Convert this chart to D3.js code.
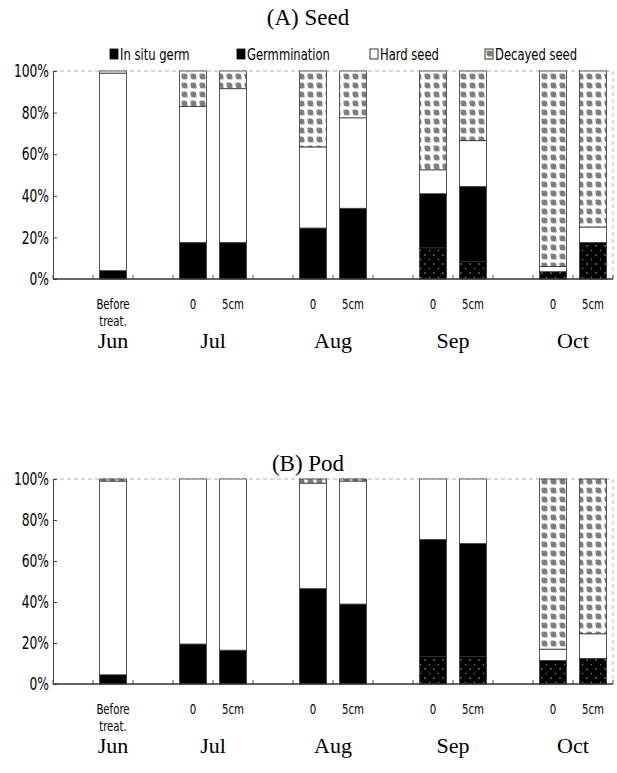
<!DOCTYPE html>
<html>
<head>
<meta charset="utf-8">
<script src="https://cdn.jsdelivr.net/npm/d3@7"></script>
<style>
    body { margin: 0; background: #fff; }
    svg { display: block; }
    .sans { font-family: "DejaVu Sans Condensed", "DejaVu Sans", sans-serif; font-stretch: condensed; }
    .serif { font-family: "Liberation Serif", "DejaVu Serif", serif; }
</style>
</head>
<body>
<div id="chart"></div>
<script>
// slots on the x axis; gapN are empty spacer slots
const slots = ['gap0', 'Jun', 'gap1', 'Jul-0', 'Jul-5cm', 'gap2', 'Aug-0', 'Aug-5cm', 'gap3', 'Sep-0', 'Sep-5cm', 'gap4', 'Oct-0', 'Oct-5cm'];
const barKeys = ['Jun', 'Jul-0', 'Jul-5cm', 'Aug-0', 'Aug-5cm', 'Sep-0', 'Sep-5cm', 'Oct-0', 'Oct-5cm'];
const depthLabels = [['Before', 'treat.'], ['0'], ['5cm'], ['0'], ['5cm'], ['0'], ['5cm'], ['0'], ['5cm']];
const months = ['Jun', 'Jul', 'Aug', 'Sep', 'Oct'];
const monthBars = [['Jun'], ['Jul-0', 'Jul-5cm'], ['Aug-0', 'Aug-5cm'], ['Sep-0', 'Sep-5cm'], ['Oct-0', 'Oct-5cm']];
const seriesNames = ['In situ germ', 'Germmination', 'Hard seed', 'Decayed seed'];
const yTicks = [0, 20, 40, 60, 80, 100];

// (A) Seed, % per bar
const seedInSitu   = [0, 0, 0, 0, 0, 15, 8.5, 3.5, 17.5];
const seedGerm     = [4, 17.5, 17.5, 24.5, 34, 26, 36, 0, 0];
const seedHard     = [95, 65.5, 74, 39, 43.5, 11.5, 22, 2.5, 7.5];
const seedDecayed  = [1, 17, 8.5, 36.5, 22.5, 47.5, 33.5, 94, 75];

// (B) Pod, % per bar
const podInSitu    = [0, 0, 0, 0, 0, 13.5, 13.5, 11.5, 12.5];
const podGerm      = [4.5, 19.5, 16.5, 46.5, 39, 57, 55, 0, 0];
const podHard      = [94.5, 80.5, 83.5, 51.5, 60, 29.5, 31.5, 5.5, 12];
const podDecayed   = [1, 0, 0, 2, 1, 0, 0, 83, 75.5];

const W = 617, H = 773;
const squeeze = 0.78;   // the original sans face is much narrower than DejaVu

const svg = d3.select('#chart')
    .append('svg')
        .attr('width', W)
        .attr('height', H);

// fill patterns
const defs = svg.append('defs');

const decay = defs.append('pattern')
    .attr('id', 'decay')
    .attr('patternUnits', 'userSpaceOnUse')
    .attr('width', 9).attr('height', 9);
decay.append('rect').attr('width', 9).attr('height', 9).attr('fill', '#fff');
decay.append('circle').attr('cx', 4.5).attr('cy', 4.5).attr('r', 2.9).attr('fill', '#7c7c7c');
decay.append('circle').attr('cx', 2.6).attr('cy', 2.8).attr('r', 1.3).attr('fill', '#8c8c8c');
decay.append('circle').attr('cx', 6.6).attr('cy', 6.4).attr('r', 1.1).attr('fill', '#8c8c8c');

const insitu = defs.append('pattern')
    .attr('id', 'insitu')
    .attr('patternUnits', 'userSpaceOnUse')
    .attr('width', 9).attr('height', 9);
insitu.append('rect').attr('width', 9).attr('height', 9).attr('fill', '#000');
insitu.append('circle').attr('cx', 2).attr('cy', 3).attr('r', 0.8).attr('fill', '#aaa');
insitu.append('circle').attr('cx', 6.5).attr('cy', 7.5).attr('r', 0.7).attr('fill', '#888');

const fills = ['url(#insitu)', '#000', '#fff', 'url(#decay)'];

const x = d3.scaleBand()
    .domain(slots)
    .range([53, 613])
    .paddingInner(0.33)
    .paddingOuter(0.165);

// narrow sans text placed at (px, py)
function narrowText(parent, px, py, size, anchor) {
    return parent.append('text')
        .attr('class', 'sans')
        .attr('font-size', size)
        .attr('text-anchor', anchor)
        .attr('transform', `translate(${px},${py}) scale(${squeeze},1)`);
}

function drawPanel(cfg) {
    const y = d3.scaleLinear().domain([0, 100]).range([cfg.bottom, cfg.top]);
    const g = svg.append('g');

    const rows = barKeys.map((k, i) => {
        const r = {key: k};
        cfg.series.forEach((s, j) => r[seriesNames[j]] = s[i]);
        return r;
    });
    const stacked = d3.stack().keys(seriesNames)(rows);

    // title
    g.append('text')
        .attr('class', 'serif')
        .attr('x', 308).attr('y', cfg.titleY)
        .attr('text-anchor', 'middle')
        .attr('font-size', 23)
        .text(cfg.title);

    // dashed frame on top and right
    g.append('line')
        .attr('x1', x.range()[0]).attr('x2', x.range()[1])
        .attr('y1', y(100)).attr('y2', y(100))
        .attr('stroke', '#999').attr('stroke-dasharray', '4,3').attr('stroke-width', 0.8);
    g.append('line')
        .attr('x1', x.range()[1]).attr('x2', x.range()[1])
        .attr('y1', y(100)).attr('y2', y(0))
        .attr('stroke', '#aaa').attr('stroke-dasharray', '4,3').attr('stroke-width', 0.8);

    // bars
    g.selectAll('g.layer')
        .data(stacked)
        .enter()
        .append('g')
        .attr('class', 'layer')
        .attr('fill', (d, i) => fills[i])
        .selectAll('rect')
        .data(d => d.filter(p => p[1] - p[0] > 0))
        .enter()
        .append('rect')
        .attr('x', d => x(d.data.key))
        .attr('width', x.bandwidth())
        .attr('y', d => y(d[1]))
        .attr('height', d => y(d[0]) - y(d[1]))
        .attr('stroke', '#333')
        .attr('stroke-width', 0.8);

    // y axis
    const yAxis = g.append('g')
        .attr('transform', `translate(${x.range()[0]},0)`)
        .call(d3.axisLeft(y)
            .tickValues(yTicks)
            .tickFormat(d => d + '%')
            .tickSizeInner(-4)
            .tickSizeOuter(0)
            .tickPadding(4));
    yAxis.select('.domain').attr('stroke', '#444');
    yAxis.selectAll('.tick line').attr('stroke', '#444');
    yAxis.selectAll('text')
        .attr('class', 'sans')
        .attr('font-size', 17.5)
        .attr('fill', '#000')
        .attr('x', null)
        .attr('transform', `translate(-4,0) scale(${squeeze},1)`);

    // x baseline with slot boundary ticks
    g.append('line')
        .attr('x1', x.range()[0]).attr('x2', x.range()[1])
        .attr('y1', y(0)).attr('y2', y(0))
        .attr('stroke', '#333').attr('stroke-width', 1.3);
    g.selectAll('line.bt')
        .data(d3.range(slots.length + 1))
        .enter()
        .append('line')
        .attr('class', 'bt')
        .attr('x1', i => x.range()[0] + i * x.step())
        .attr('x2', i => x.range()[0] + i * x.step())
        .attr('y1', y(0)).attr('y2', y(0) - 4)
        .attr('stroke', '#555');

    // depth labels (two-line label as separate texts)
    barKeys.forEach((k, i) => {
        depthLabels[i].forEach((line, j) => {
            narrowText(g, x(k) + x.bandwidth() / 2, y(0) + 30 + j * 17, 14.5, 'middle')
                .text(line);
        });
    });

    // month labels
    months.forEach((m, i) => {
        const ks = monthBars[i];
        const cx = d3.mean(ks, k => x(k) + x.bandwidth() / 2);
        g.append('text')
            .attr('class', 'serif')
            .attr('font-size', 22)
            .attr('text-anchor', 'middle')
            .attr('x', cx)
            .attr('y', y(0) + 69)
            .text(m);
    });

    return g;
}

drawPanel({
    title: '(A) Seed',
    titleY: 25,
    top: 71,
    bottom: 279,
    series: [seedInSitu, seedGerm, seedHard, seedDecayed]
});

drawPanel({
    title: '(B) Pod',
    titleY: 471,
    top: 479,
    bottom: 684,
    series: [podInSitu, podGerm, podHard, podDecayed]
});

// legend (panel A only)
const legendX = [110, 237, 370, 485];
const legend = svg.append('g').attr('class', 'legend');
seriesNames.forEach((name, i) => {
    const item = legend.append('g').attr('transform', `translate(${legendX[i]},49)`);
    item.append('rect')
        .attr('width', 8).attr('height', 10)
        .attr('fill', i === 0 ? '#000' : fills[i])
        .attr('stroke', '#000').attr('stroke-width', 0.8);
    narrowText(item, 10, 10.5, 16.5, 'start').text(name);
});
</script>
</body>
</html>
